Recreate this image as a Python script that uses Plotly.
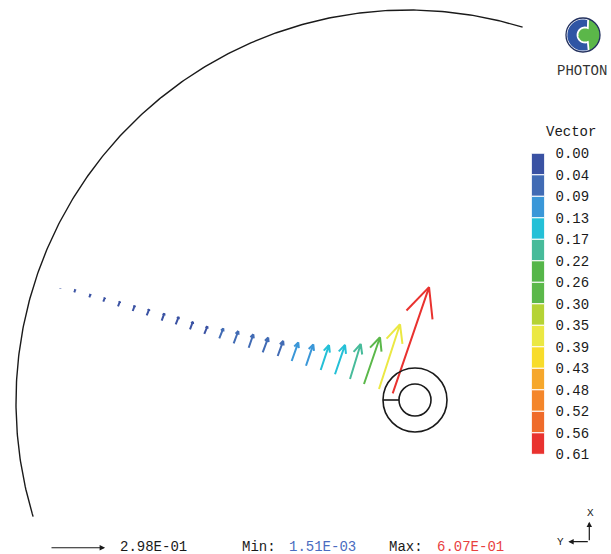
import numpy as np
import plotly.graph_objects as go

# ---------------------------------------------------------------------------
# Nodal vector results along the sampling path.
# Coordinates in mm: horizontal to the right, vertical upwards, origin at the
# centre of the bore.  Components are in result units (same frame).
# ---------------------------------------------------------------------------
node_x = [-110.84, -106.47, -101.78, -97.41, -92.81, -88.22, -83.84, -79.16,
          -74.78, -70.31, -65.84, -61.16, -56.66, -51.97, -47.59, -42.91,
          -38.53, -34.06, -29.47, -25.00, -20.31, -15.94, -11.25, -6.97]
node_y = [34.78, 33.66, 32.09, 30.72, 29.28, 27.81, 26.47, 24.78,
          23.66, 22.09, 20.63, 19.28, 17.72, 16.34, 14.91, 13.75,
          12.19, 10.72, 9.38, 8.03, 6.56, 5.00, 3.44, 2.09]
vec_u = [0.00052, 0.00547, 0.00674, 0.00862, 0.01049, 0.01111, 0.01311, 0.01436,
         0.01611, 0.01577, 0.01671, 0.02173, 0.02486, 0.02507, 0.02977, 0.02976,
         0.03554, 0.03931, 0.04482, 0.05413, 0.05789, 0.08648, 0.11372, 0.19660]
vec_v = [0.00142, 0.01504, 0.01669, 0.02133, 0.02596, 0.02894, 0.03245, 0.03947,
         0.03987, 0.04108, 0.04135, 0.05378, 0.06650, 0.07280, 0.07962, 0.08175,
         0.10092, 0.11549, 0.13474, 0.15904, 0.18935, 0.25260, 0.34999, 0.57428]

# Legend colours, one per band (low -> high)
band_colors = ["#3a52a3", "#416bb4", "#3a97d8", "#24c0d7", "#47bb9a", "#55b649",
               "#5bb84a", "#b5d335", "#ebe843", "#f8dc2a", "#f6a72b", "#f4862a",
               "#ef6b2a", "#e9322f"]
legend_title = "Vector"
reference_value = 0.298

# Model outlines (mm)
bore_r_outer, bore_r_inner = 10.0, 5.0
shell_center = (-2.19, -0.63)
shell_radius = 122.5
shell_arc_deg = (73.0, 197.0)

# ---------------------------------------------------------------------------
W, H = 611, 554
PX_PER_MM = 3.2
ORIGIN_PX = (415.0, 400.0)
ARROW_SCALE = 57.8          # mm of arrow per result unit
HEAD_FRAC = 0.29
HEAD_ANGLE = np.radians(25)
MONO = "Liberation Mono"
INK = "#1a1a1a"

u = np.array(vec_u)
v = np.array(vec_v)
mag = np.hypot(u, v)
vmin, vmax = mag.min(), mag.max()
n_bands = len(band_colors)
edges = np.linspace(vmin, vmax, n_bands + 1)
band = np.minimum(((mag - vmin) / (edges[1] - edges[0])).astype(int), n_bands - 1)

fig = go.Figure()

# outer shell arc
t = np.radians(np.linspace(*shell_arc_deg, 300))
fig.add_trace(go.Scatter(x=shell_center[0] + shell_radius * np.cos(t),
                         y=shell_center[1] + shell_radius * np.sin(t),
                         mode="lines", line=dict(color=INK, width=1.4),
                         hoverinfo="skip"))


def arrow_path(x0, y0, du, dv):
    x1, y1 = x0 + ARROW_SCALE * du, y0 + ARROW_SCALE * dv
    L = np.hypot(x1 - x0, y1 - y0)
    back = np.arctan2(y0 - y1, x0 - x1)
    h = HEAD_FRAC * L
    hx1, hy1 = x1 + h * np.cos(back + HEAD_ANGLE), y1 + h * np.sin(back + HEAD_ANGLE)
    hx2, hy2 = x1 + h * np.cos(back - HEAD_ANGLE), y1 + h * np.sin(back - HEAD_ANGLE)
    return [x0, x1, hx1, None, hx2, x1], [y0, y1, hy1, None, hy2, y1]


# vector arrows, one trace per legend band
for b in range(n_bands):
    xs, ys = [], []
    for i in np.where(band == b)[0]:
        px_, py_ = arrow_path(node_x[i], node_y[i], u[i], v[i])
        xs += px_ + [None]
        ys += py_ + [None]
    if xs:
        fig.add_trace(go.Scatter(x=xs, y=ys, mode="lines",
                                 line=dict(color=band_colors[b], width=2),
                                 hoverinfo="skip"))

# colour legend as stacked bands
fig.add_trace(go.Bar(x=[0] * n_bands, y=np.diff(edges), base=edges[:-1], width=1,
                     marker=dict(color=band_colors, line=dict(color="white", width=1)),
                     xaxis="x2", yaxis="y2", hoverinfo="skip"))

# bore: two circles and the radial line
shapes = [
    dict(type="circle", xref="x", yref="y", x0=-bore_r_outer, x1=bore_r_outer,
         y0=-bore_r_outer, y1=bore_r_outer, line=dict(color=INK, width=1.6)),
    dict(type="circle", xref="x", yref="y", x0=-bore_r_inner, x1=bore_r_inner,
         y0=-bore_r_inner, y1=bore_r_inner, line=dict(color=INK, width=1.6)),
    dict(type="line", xref="x", yref="y", x0=-bore_r_outer, x1=-bore_r_inner,
         y0=0, y1=0, line=dict(color=INK, width=1.6)),
]


# ---- logo (pixel layout converted to paper units)
def pp(xp, yp):
    return xp / W, 1 - yp / H


def poly_path(pts):
    s = []
    for k, (xp, yp) in enumerate(pts):
        a, b_ = pp(xp, yp)
        s.append(("M" if k == 0 else "L") + f"{a:.5f},{b_:.5f}")
    return " ".join(s) + " Z"


lc, lr = (583.0, 35.0), 17.0
shapes.append(dict(type="circle", xref="paper", yref="paper",
                   x0=pp(lc[0] - lr, 0)[0], x1=pp(lc[0] + lr, 0)[0],
                   y0=pp(0, lc[1] + lr)[1], y1=pp(0, lc[1] - lr)[1],
                   fillcolor="#5bb749", line=dict(width=0)))
phi_o = np.radians(np.linspace(72, 290, 60))
phi_i = np.radians(np.linspace(292, 68, 60))
c_pts = [(lc[0] + (lr - 0.5) * np.cos(p), lc[1] - (lr - 0.5) * np.sin(p)) for p in phi_o]
c_pts += [(lc[0] + 2.0 + 7.5 * np.cos(p), lc[1] - 7.5 * np.sin(p)) for p in phi_i]
shapes.append(dict(type="path", xref="paper", yref="paper", path=poly_path(c_pts),
                   fillcolor="#2f55a4", line=dict(color="white", width=1.8)))
shapes.append(dict(type="circle", xref="paper", yref="paper",
                   x0=pp(lc[0] - lr, 0)[0], x1=pp(lc[0] + lr, 0)[0],
                   y0=pp(0, lc[1] + lr)[1], y1=pp(0, lc[1] - lr)[1],
                   line=dict(color="#22305e", width=1.3)))


def label(xp, yp, text, color=INK, size=14, anchor="left"):
    a, b_ = pp(xp, yp)
    return dict(xref="paper", yref="paper", x=a, y=b_, text=text, showarrow=False,
                xanchor=anchor, yanchor="middle",
                font=dict(family=MONO, size=size, color=color))


# reference arrow at the bottom
ref_tail = ((50 - ORIGIN_PX[0]) / PX_PER_MM, (ORIGIN_PX[1] - 547.7) / PX_PER_MM)
annotations = [
    dict(xref="x", yref="y", axref="x", ayref="y",
         x=ref_tail[0] + ARROW_SCALE * reference_value, y=ref_tail[1],
         ax=ref_tail[0], ay=ref_tail[1], text="", showarrow=True,
         arrowhead=2, arrowsize=1, arrowwidth=1.1, arrowcolor=INK),
    label(118, 547, f"{reference_value:.2E}"),
    label(240, 547, "Min:"),
    label(287, 547, f"{vmin:.2E}", color="#4a6cc0"),
    label(387, 547, "Max:"),
    label(435, 547, f"{vmax:.2E}", color="#e8413f"),
    label(570.5, 131.5, legend_title, anchor="center"),
    label(582, 71, "PHOTON", size=14, anchor="center", color="#333333"),
    # axis triad
    dict(xref="paper", yref="paper", x=pp(589.3, 521.7)[0], y=pp(589.3, 521.7)[1],
         ax=0, ay=20, text="", showarrow=True, arrowhead=2, arrowsize=0.9,
         arrowwidth=1.2, arrowcolor=INK),
    dict(xref="paper", yref="paper", x=pp(568.3, 541.7)[0], y=pp(568.3, 541.7)[1],
         ax=21, ay=0, text="", showarrow=True, arrowhead=2, arrowsize=0.9,
         arrowwidth=1.2, arrowcolor=INK),
    label(590.7, 513.3, "X", size=11, anchor="center"),
    label(560.7, 541.7, "Y", size=11, anchor="center"),
]

fig.update_layout(
    width=W, height=H, autosize=False,
    margin=dict(l=0, r=0, t=0, b=0, pad=0, autoexpand=False),
    paper_bgcolor="white", plot_bgcolor="white",
    showlegend=False, barmode="overlay",
    xaxis=dict(range=[-ORIGIN_PX[0] / PX_PER_MM, (W - ORIGIN_PX[0]) / PX_PER_MM],
               visible=False, fixedrange=True, domain=[0, 1], automargin=False),
    yaxis=dict(range=[-(H - ORIGIN_PX[1]) / PX_PER_MM, ORIGIN_PX[1] / PX_PER_MM],
               visible=False, fixedrange=True, domain=[0, 1], automargin=False),
    xaxis2=dict(domain=[531.5 / W, 544.5 / W], range=[-0.5, 0.5], visible=False,
                anchor="y2", fixedrange=True, automargin=False),
    yaxis2=dict(domain=[1 - 454.3 / H, 1 - 153.3 / H], range=[edges[-1], edges[0]],
                anchor="x2", side="right", tickvals=edges,
                ticktext=[f"{e:.2f}" for e in edges], ticks="", showgrid=False,
                zeroline=False, showline=False, ticklabelstandoff=10,
                tickfont=dict(family=MONO, size=14, color=INK), fixedrange=True,
                automargin=False),
    shapes=shapes, annotations=annotations,
)

fig.write_html("out.html")
